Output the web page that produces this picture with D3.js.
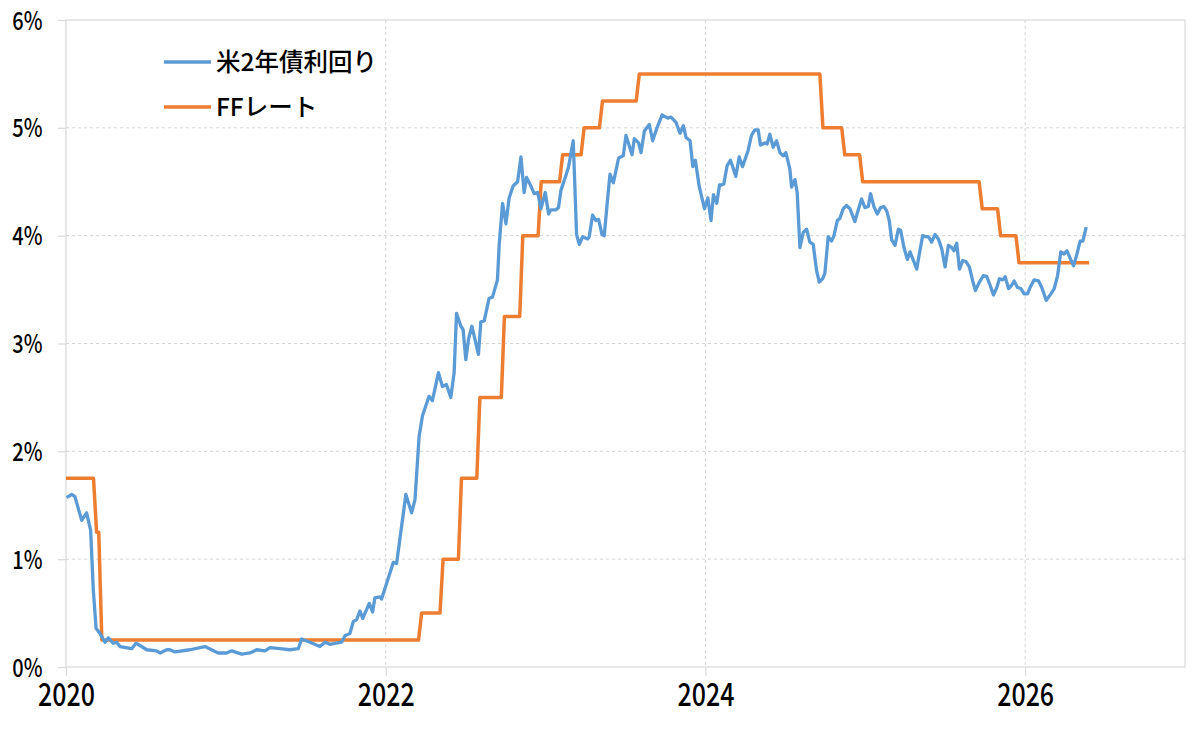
<!DOCTYPE html>
<html><head><meta charset="utf-8">
<script src="https://cdn.jsdelivr.net/npm/d3@7"></script>
<style>body{margin:0;background:#fff} svg{display:block}</style>
</head><body>
<svg id="chart" width="1199" height="734"></svg>
<script>
// 米2年債利回り (decimal year, %)
const yieldTimes = [
2020.004,2020.036,2020.056,2020.098,2020.129,2020.154,2020.171,2020.188,2020.213,2020.244,
2020.265,2020.296,2020.317,2020.338,2020.411,2020.438,2020.473,2020.505,2020.567,2020.588,
2020.630,2020.650,2020.682,2020.775,2020.869,2020.952,2021.005,2021.036,2021.099,2021.151,
2021.193,2021.245,2021.276,2021.338,2021.401,2021.453,2021.474,2021.526,2021.588,2021.620,
2021.651,2021.682,2021.724,2021.745,2021.776,2021.797,2021.818,2021.839,2021.856,2021.897,
2021.918,2021.932,2021.964,2021.974,2022.026,2022.047,2022.068,2022.099,2022.126,2022.162,
2022.183,2022.209,2022.230,2022.271,2022.292,2022.330,2022.355,2022.380,2022.407,2022.428,
2022.443,2022.470,2022.484,2022.501,2022.518,2022.539,2022.580,2022.595,2022.616,2022.647,
2022.668,2022.699,2022.710,2022.731,2022.752,2022.772,2022.797,2022.825,2022.846,2022.866,
2022.881,2022.902,2022.929,2022.950,2022.971,2022.998,2023.019,2023.033,2023.065,2023.081,
2023.096,2023.123,2023.144,2023.173,2023.194,2023.211,2023.232,2023.263,2023.273,2023.294,
2023.315,2023.332,2023.353,2023.367,2023.388,2023.403,2023.424,2023.457,2023.486,2023.503,
2023.541,2023.555,2023.582,2023.597,2023.618,2023.649,2023.670,2023.697,2023.729,2023.764,
2023.785,2023.816,2023.841,2023.862,2023.879,2023.904,2023.921,2023.937,2023.962,2023.994,
2024.015,2024.035,2024.050,2024.071,2024.088,2024.100,2024.115,2024.136,2024.157,2024.190,
2024.211,2024.232,2024.267,2024.288,2024.309,2024.330,2024.344,2024.372,2024.386,2024.403,
2024.424,2024.445,2024.466,2024.486,2024.503,2024.528,2024.539,2024.560,2024.574,2024.591,
2024.612,2024.633,2024.653,2024.674,2024.695,2024.712,2024.733,2024.747,2024.768,2024.789,
2024.804,2024.825,2024.841,2024.862,2024.883,2024.904,2024.935,2024.956,2024.977,2024.998,
2025.019,2025.033,2025.054,2025.075,2025.096,2025.117,2025.134,2025.150,2025.165,2025.186,
2025.207,2025.221,2025.242,2025.263,2025.280,2025.301,2025.322,2025.338,2025.359,2025.380,
2025.395,2025.415,2025.436,2025.457,2025.478,2025.499,2025.520,2025.541,2025.555,2025.572,
2025.589,2025.610,2025.630,2025.651,2025.672,2025.689,2025.714,2025.739,2025.760,2025.781,
2025.802,2025.823,2025.839,2025.860,2025.875,2025.896,2025.916,2025.931,2025.952,2025.973,
2025.994,2026.015,2026.031,2026.056,2026.084,2026.104,2026.132,2026.161,2026.182,2026.203,
2026.223,2026.244,2026.261,2026.282,2026.303,2026.324,2026.344,2026.361,2026.382
];
const yieldValues = [
1.57,1.60,1.58,1.36,1.43,1.27,0.71,0.36,0.31,0.23,
0.27,0.22,0.23,0.19,0.17,0.22,0.19,0.16,0.15,0.13,
0.16,0.16,0.14,0.16,0.19,0.13,0.13,0.15,0.12,0.13,
0.16,0.15,0.18,0.17,0.16,0.17,0.26,0.23,0.19,0.23,
0.21,0.22,0.23,0.29,0.31,0.42,0.44,0.52,0.45,0.59,
0.51,0.64,0.65,0.63,0.87,0.97,0.96,1.30,1.60,1.43,
1.55,2.14,2.33,2.51,2.47,2.73,2.60,2.62,2.50,2.73,
3.28,3.16,3.13,2.85,3.04,3.16,2.90,3.20,3.21,3.42,
3.43,3.59,3.92,4.30,4.11,4.35,4.46,4.50,4.73,4.40,
4.54,4.48,4.39,4.40,4.25,4.40,4.20,4.24,4.24,4.26,
4.42,4.54,4.64,4.88,4.01,3.92,3.99,3.97,3.99,4.19,
4.14,4.15,4.01,4.00,4.34,4.57,4.49,4.72,4.74,4.93,
4.75,4.90,4.86,4.77,4.97,5.03,4.88,5.00,5.12,5.09,
5.10,5.05,4.95,5.02,4.91,4.88,4.64,4.70,4.45,4.25,
4.35,4.14,4.38,4.30,4.47,4.47,4.48,4.65,4.70,4.55,
4.73,4.64,4.79,4.93,4.98,4.98,4.84,4.86,4.85,4.94,
4.82,4.88,4.77,4.74,4.77,4.62,4.45,4.52,4.40,3.89,
4.03,4.06,3.94,3.92,3.68,3.57,3.60,3.65,3.99,3.95,
4.00,4.14,4.16,4.25,4.28,4.25,4.13,4.24,4.34,4.26,
4.27,4.39,4.27,4.20,4.26,4.27,4.23,4.14,3.96,3.91,
4.06,4.05,3.89,3.78,3.85,3.77,3.69,3.83,4.00,3.99,
3.99,3.94,4.01,3.97,3.88,3.71,3.91,3.89,3.86,3.93,
3.69,3.77,3.76,3.71,3.58,3.49,3.57,3.63,3.62,3.54,
3.45,3.52,3.60,3.59,3.62,3.51,3.54,3.58,3.52,3.51,
3.46,3.46,3.52,3.59,3.58,3.52,3.40,3.46,3.51,3.63,
3.85,3.83,3.86,3.79,3.72,3.83,3.95,3.95,4.08
];
// FFレート (target upper bound, %) with dates of change
const ffDates = ["2020-01-01","2020-03-04","2020-03-16","2022-03-17","2022-05-05","2022-06-16",
  "2022-07-28","2022-09-22","2022-11-03","2022-12-15","2023-02-02","2023-03-23","2023-05-04",
  "2023-07-27","2024-09-19","2024-11-08","2024-12-19","2025-09-18","2025-10-30","2025-12-11","2026-05-20"];
const ffRates = [1.75,1.25,0.25,0.50,1.00,1.75,2.50,3.25,4.00,4.50,4.75,5.00,5.25,5.50,5.00,4.75,4.50,4.25,4.00,3.75,3.75];

const seriesNames = ["米2年債利回り", "FFレート"];
const seriesColors = ["#5B9BD5", "#ED7D31"];
const xTickValues = [2020, 2022, 2024, 2026];
const yTickValues = [0, 1, 2, 3, 4, 5, 6];

const svg = d3.select("#chart");
const L = 66, R = 1185, T = 20, B = 667;
const x = d3.scaleLinear().domain([2020, 2027]).range([L, R]);
const y = d3.scaleLinear().domain([0, 6]).range([B, T]);

function decYear(s) {
  const d = new Date(s + "T00:00:00Z");
  const yr = d.getUTCFullYear();
  const start = Date.UTC(yr, 0, 1), end = Date.UTC(yr + 1, 0, 1);
  return yr + (d - start) / (end - start);
}
const WEEK = 7 / 365;

// grid
const grid = svg.append("g");
grid.selectAll("line.h").data(yTickValues.filter(v => v > 0 && v < 6)).join("line")
  .attr("x1", L).attr("x2", R).attr("y1", d => y(d)).attr("y2", d => y(d))
  .attr("stroke", "#d4d4d4").attr("stroke-width", 1).attr("stroke-dasharray", "3,3");
grid.selectAll("line.v").data(xTickValues.filter(v => v > 2020)).join("line")
  .attr("x1", d => x(d)).attr("x2", d => x(d)).attr("y1", T).attr("y2", B)
  .attr("stroke", "#d4d4d4").attr("stroke-width", 1).attr("stroke-dasharray", "3,3");

// frame
svg.append("rect").attr("x", L).attr("y", T).attr("width", R - L).attr("height", B - T)
  .attr("fill", "none").attr("stroke", "#d9d9d9").attr("stroke-width", 1.2);

// axes
const yAxis = svg.append("g").attr("transform", `translate(${L},0)`)
  .call(d3.axisLeft(y).tickValues(yTickValues).tickSize(8).tickFormat(d => d + "%"));
yAxis.select(".domain").remove();
yAxis.selectAll(".tick line").attr("stroke", "#d9d9d9").attr("stroke-width", 1.2);
yAxis.selectAll(".tick text")
  .attr("x", -23.5 / 0.8).attr("dy", "0.36em")
  .attr("transform", "scale(0.8,1)")
  .attr("font-family", "'Noto Sans CJK JP', sans-serif").attr("font-size", 25)
  .attr("font-weight", 500)
  .attr("fill", "#000").attr("text-anchor", "end");

const xAxis = svg.append("g").attr("transform", `translate(0,${B})`)
  .call(d3.axisBottom(x).tickValues(xTickValues).tickSize(9).tickFormat(d => d));
xAxis.select(".domain").remove();
xAxis.selectAll(".tick line").attr("stroke", "#d9d9d9").attr("stroke-width", 1.2);
xAxis.selectAll(".tick text")
  .attr("y", 39).attr("dy", 0).attr("x", 0)
  .attr("transform", "scale(0.78,1)")
  .attr("font-family", "'Noto Sans CJK JP', sans-serif").attr("font-size", 32)
  .attr("font-weight", 500)
  .attr("fill", "#000").attr("text-anchor", "middle");

// FF series: weekly observations; each new rate appears one week after the change date
const ffPts = [];
ffDates.forEach((s, i) => {
  const t = decYear(s);
  ffPts.push([i === 0 ? t : t + WEEK, ffRates[i]]);
  if (i < ffDates.length - 1) ffPts.push([decYear(ffDates[i + 1]), ffRates[i]]);
});
const line = d3.line().x(d => x(d[0])).y(d => y(d[1]));
svg.append("path").datum(ffPts).attr("d", line)
  .attr("fill", "none").attr("stroke", seriesColors[1]).attr("stroke-width", 3.5)
  .attr("stroke-linejoin", "round");

const yPts = yieldTimes.map((t, i) => [t, yieldValues[i]]);
svg.append("path").datum(yPts).attr("d", line)
  .attr("fill", "none").attr("stroke", seriesColors[0]).attr("stroke-width", 3.3)
  .attr("stroke-linejoin", "round");

// legend
const leg = svg.append("g");
seriesNames.forEach((name, i) => {
  const ly = 62 + i * 45;
  leg.append("line").attr("x1", 164).attr("x2", 211).attr("y1", ly).attr("y2", ly)
    .attr("stroke", seriesColors[i]).attr("stroke-width", 3.5);
  leg.append("text").attr("x", 216).attr("y", ly).attr("dy", "0.36em")
    .attr("font-family", "'Noto Sans CJK JP', sans-serif").attr("font-size", 24.5)
    .attr("font-weight", 500)
    .attr("fill", "#000").text(name);
});
</script>
</body></html>
